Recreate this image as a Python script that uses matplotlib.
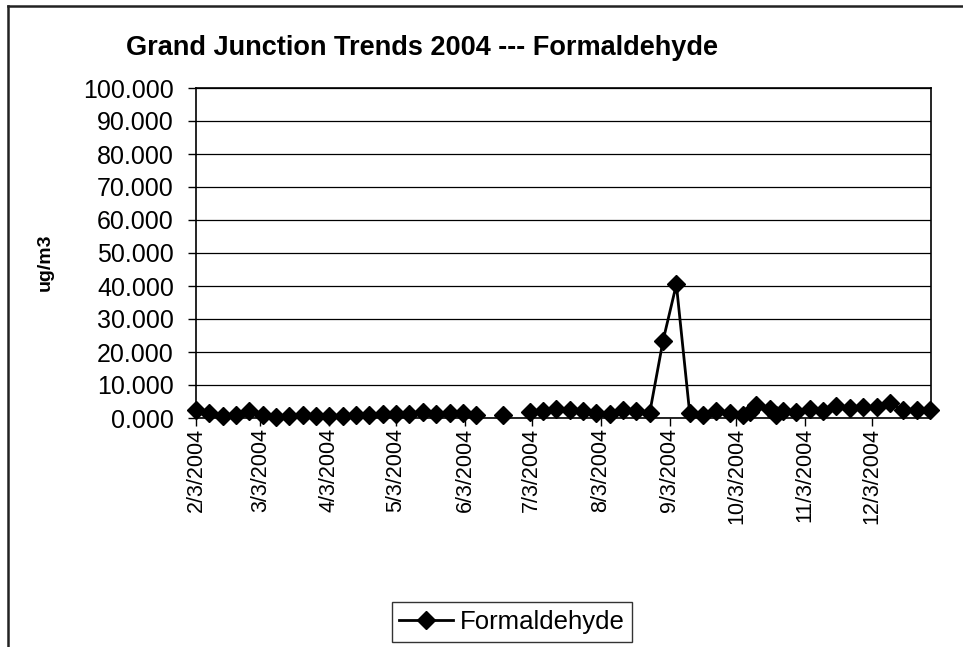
import matplotlib
matplotlib.use('Agg')
import matplotlib.pyplot as plt
import matplotlib.dates as mdates
from matplotlib.lines import Line2D
import numpy as np
from datetime import datetime as dt

plt.rcParams['font.family'] = ['Liberation Sans', 'DejaVu Sans']

# sample dates (mostly 1-in-6 day schedule, two extra samples in October)
dates = [
    '2004-02-03', '2004-02-09', '2004-02-15', '2004-02-21', '2004-02-27',
    '2004-03-04', '2004-03-10', '2004-03-16', '2004-03-22', '2004-03-28',
    '2004-04-03', '2004-04-09', '2004-04-15', '2004-04-21', '2004-04-27',
    '2004-05-03', '2004-05-09', '2004-05-15', '2004-05-21', '2004-05-27',
    '2004-06-02', '2004-06-08', '2004-06-14', '2004-06-20', '2004-06-26',
    '2004-07-02', '2004-07-08', '2004-07-14', '2004-07-20', '2004-07-26',
    '2004-08-01', '2004-08-07', '2004-08-13', '2004-08-19', '2004-08-25',
    '2004-08-31', '2004-09-06', '2004-09-12', '2004-09-18', '2004-09-24',
    '2004-09-30', '2004-10-06', '2004-10-09', '2004-10-12', '2004-10-18',
    '2004-10-21', '2004-10-24', '2004-10-30', '2004-11-05', '2004-11-11',
    '2004-11-17', '2004-11-23', '2004-11-29', '2004-12-05', '2004-12-11',
    '2004-12-17', '2004-12-23', '2004-12-29',
]
formaldehyde = [
    2.4, 1.6, 0.6, 1.0, 2.2,
    0.8, 0.3, 0.7, 0.9, 0.7,
    0.6, 0.7, 0.8, 1.0, 1.2,
    1.3, 1.1, 1.8, 1.3, 1.5,
    1.6, 0.9, np.nan, 1.0, np.nan,
    1.8, 2.2, 2.6, 2.4, 2.0,
    1.5, 1.1, 2.5, 2.0, 1.5,
    23.4, 40.5, 1.4, 1.0, 2.0,
    1.5, 1.0, 1.8, 3.8, 2.6,
    1.0, 2.0, 1.8, 2.6, 2.0,
    3.6, 3.0, 3.4, 3.2, 4.4,
    2.4, 2.4, 2.4,
]
tick_dates = ['2004-02-03', '2004-03-03', '2004-04-03', '2004-05-03', '2004-06-03',
              '2004-07-03', '2004-08-03', '2004-09-03', '2004-10-03', '2004-11-03',
              '2004-12-03']
tick_labels = ['2/3/2004', '3/3/2004', '4/3/2004', '5/3/2004', '6/3/2004',
               '7/3/2004', '8/3/2004', '9/3/2004', '10/3/2004', '11/3/2004',
               '12/3/2004']
y_ticks = [0, 10, 20, 30, 40, 50, 60, 70, 80, 90, 100]

x = [dt.strptime(d, '%Y-%m-%d') for d in dates]
xt = [dt.strptime(d, '%Y-%m-%d') for d in tick_dates]

W, H = 963, 647
fig = plt.figure(figsize=(W / 100, H / 100), dpi=100)
ax = fig.add_axes([196 / W, 1 - 418 / H, (931 - 196) / W, (418 - 88) / H])

ax.plot(x, formaldehyde, color='black', lw=2, marker='D', markersize=9,
        label='Formaldehyde', zorder=3, clip_on=False)

ax.set_xlim(dt(2004, 2, 3), dt(2004, 12, 29, 12))
ax.set_ylim(0, 100)
ax.set_yticks(y_ticks)
ax.set_yticklabels([f'{v:.3f}' for v in y_ticks])
ax.set_xticks(mdates.date2num(xt))
ax.set_xticklabels(tick_labels, rotation=90)
ax.grid(axis='y', color='black', lw=0.9)
ax.set_axisbelow(True)
ax.tick_params(axis='both', direction='out', length=6, width=1, colors='black')
ax.tick_params(axis='y', labelsize=18, pad=10)
ax.tick_params(axis='x', labelsize=15.5, pad=1)
for s in ax.spines.values():
    s.set_linewidth(1.2)
    s.set_color('black')

fig.text(45 / W, 1 - 262 / H, 'ug/m3', rotation=90, fontsize=14,
         fontweight='bold', ha='center', va='center')
fig.text(718 / W, 1 - 48 / H, 'Grand Junction Trends 2004 --- Formaldehyde',
         fontsize=19.5, fontweight='bold', ha='right', va='center')

leg = fig.legend(loc='center', bbox_to_anchor=(512 / W, 1 - 622 / H),
                 fontsize=18.5, frameon=True, fancybox=False, handlelength=2.1,
                 borderpad=0.3, handletextpad=0.25, borderaxespad=0)
leg.get_frame().set_edgecolor('black')
leg.get_frame().set_linewidth(1)

# outer chart border (left and top edges visible in the crop)
fig.add_artist(Line2D([8 / W, 8 / W], [0, 1 - 6 / H], color='#222222', lw=1.8))
fig.add_artist(Line2D([8 / W, 1], [1 - 6 / H, 1 - 6 / H], color='#222222', lw=1.8))

fig.savefig('out.png', dpi=100)
